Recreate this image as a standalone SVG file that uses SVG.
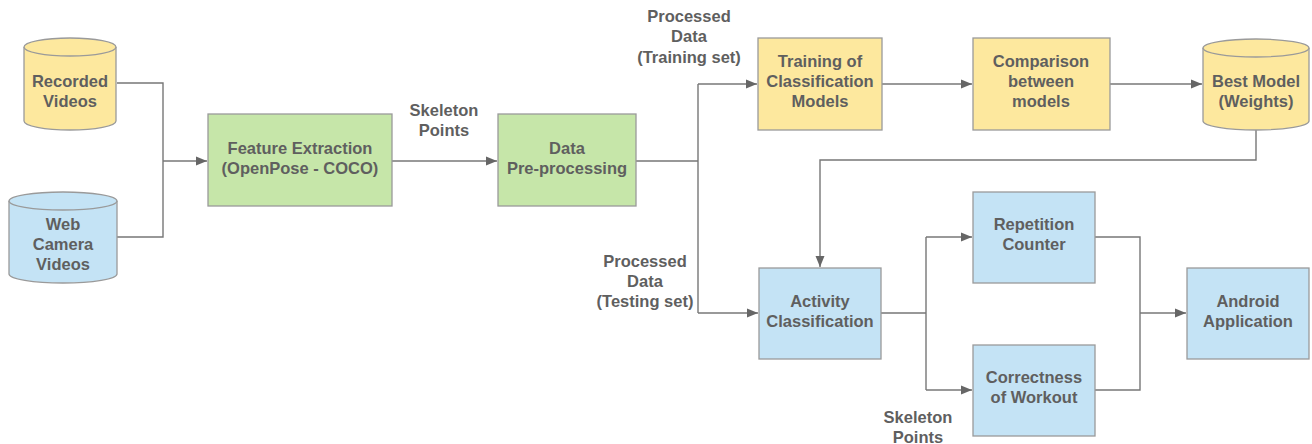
<svg xmlns="http://www.w3.org/2000/svg" width="1312" height="444" viewBox="0 0 1312 444">
<style>
text{font-family:"Liberation Sans",Arial,sans-serif;font-weight:bold;font-size:16.5px;fill:#5f5f5f;text-anchor:middle;dominant-baseline:central}
.y{fill:#fde89e;stroke:#9a9a9a;stroke-width:1.3}
.g{fill:#c6e6a9;stroke:#9a9a9a;stroke-width:1.3}
.b{fill:#c4e3f5;stroke:#9a9a9a;stroke-width:1.3}
.c{fill:none;stroke:#777;stroke-width:1.4}
.a{marker-end:url(#ah)}
</style>
<defs>
<marker id="ah" markerUnits="userSpaceOnUse" markerWidth="12" markerHeight="10" refX="11" refY="5" orient="auto">
<path d="M0,0.5 L11,5 L0,9.5 Z" fill="#666"/>
</marker>
</defs>
<rect width="1312" height="444" fill="#fff"/>
<g id="connectors">
<path class="c" d="M117,83 H163 V237 H117"/>
<path class="c a" d="M163,161 H207" stroke-width="2"/>
<path class="c a" d="M392,161 H497"/>
<path class="c" d="M636,161 H698 M698,84 V313"/>
<path class="c a" d="M698,84 H757"/>
<path class="c a" d="M698,313 H758"/>
<path class="c a" d="M882,84 H972"/>
<path class="c a" d="M1110,84 H1202"/>
<path class="c a" d="M1256,130 V160 H820 V267"/>
<path class="c" d="M881,313 H926 M926,237 V390"/>
<path class="c a" d="M926,237 H972"/>
<path class="c a" d="M926,390 H972"/>
<path class="c" d="M1095,237 H1140 V390 H1095"/>
<path class="c a" d="M1140,313 H1186"/>
</g>
<g id="labels">
<text x="444" y="110">Skeleton</text>
<text x="444" y="130">Points</text>
<text x="689" y="16">Processed</text>
<text x="689" y="36">Data</text>
<text x="689" y="57">(Training set)</text>
<text x="645" y="261">Processed</text>
<text x="645" y="281">Data</text>
<text x="645" y="301">(Testing set)</text>
<text x="918" y="417">Skeleton</text>
<text x="918" y="437">Points</text>
</g>
<g id="recorded-videos">
<path class="y" d="M24,47 A46,9 0 0 1 116,47 V121 A46,9 0 0 1 24,121 Z"/>
<path class="y" d="M24,47 A46,9 0 0 0 116,47" fill="none"/>
<text x="70" y="81">Recorded</text>
<text x="70" y="101">Videos</text>
</g>
<g id="web-camera-videos">
<path class="b" d="M9,201 A54,9 0 0 1 117,201 V274 A54,9 0 0 1 9,274 Z"/>
<path class="b" d="M9,201 A54,9 0 0 0 117,201" fill="none"/>
<text x="63" y="224">Web</text>
<text x="63" y="244">Camera</text>
<text x="63" y="264">Videos</text>
</g>
<g id="feature-extraction">
<rect class="g" x="208" y="114" width="184" height="92"/>
<text x="300" y="148">Feature Extraction</text>
<text x="300" y="168">(OpenPose - COCO)</text>
</g>
<g id="data-preprocessing">
<rect class="g" x="498" y="114" width="138" height="92"/>
<text x="567" y="148">Data</text>
<text x="567" y="168">Pre-processing</text>
</g>
<g id="training">
<rect class="y" x="758" y="38" width="124" height="92"/>
<text x="820" y="61">Training of</text>
<text x="820" y="81">Classification</text>
<text x="820" y="101">Models</text>
</g>
<g id="comparison">
<rect class="y" x="973" y="38" width="137" height="92"/>
<text x="1041" y="61">Comparison</text>
<text x="1041" y="81">between</text>
<text x="1041" y="101">models</text>
</g>
<g id="best-model">
<path class="y" d="M1203,48 A53,9 0 0 1 1309,48 V121 A53,9 0 0 1 1203,121 Z"/>
<path class="y" d="M1203,48 A53,9 0 0 0 1309,48" fill="none"/>
<text x="1256" y="81">Best Model</text>
<text x="1256" y="101">(Weights)</text>
</g>
<g id="activity-classification">
<rect class="b" x="759" y="268" width="122" height="91"/>
<text x="820" y="301">Activity</text>
<text x="820" y="321">Classification</text>
</g>
<g id="repetition-counter">
<rect class="b" x="973" y="192" width="122" height="91"/>
<text x="1034" y="224">Repetition</text>
<text x="1034" y="244">Counter</text>
</g>
<g id="correctness">
<rect class="b" x="973" y="345" width="122" height="91"/>
<text x="1034" y="377">Correctness</text>
<text x="1034" y="397">of Workout</text>
</g>
<g id="android">
<rect class="b" x="1187" y="268" width="122" height="91"/>
<text x="1248" y="301">Android</text>
<text x="1248" y="321">Application</text>
</g>
</svg>
